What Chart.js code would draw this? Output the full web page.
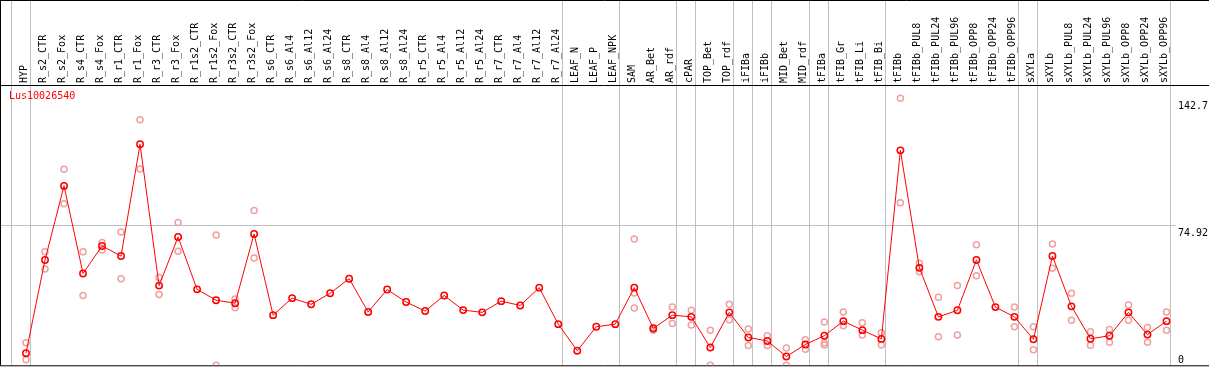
<!DOCTYPE html>
<html>
<head>
<meta charset="utf-8">
<script src="https://cdn.jsdelivr.net/npm/chart.js@4.4.0/dist/chart.umd.min.js"></script>
<style>
  html, body { margin: 0; padding: 0; background: #fff; }
</style>
</head>
<body>
<canvas id="chart" width="1209" height="370"></canvas>
<script>
const geneName = 'Lus10026540';

const samples = [
  'HYP', 'R_s2_CTR', 'R_s2_Fox', 'R_s4_CTR', 'R_s4_Fox', 'R_r1_CTR', 'R_r1_Fox', 'R_r3_CTR', 'R_r3_Fox',
  'R_r1s2_CTR', 'R_r1s2_Fox', 'R_r3s2_CTR', 'R_r3s2_Fox',
  'R_s6_CTR', 'R_s6_Al4', 'R_s6_Al12', 'R_s6_Al24', 'R_s8_CTR', 'R_s8_Al4', 'R_s8_Al12', 'R_s8_Al24',
  'R_r5_CTR', 'R_r5_Al4', 'R_r5_Al12', 'R_r5_Al24', 'R_r7_CTR', 'R_r7_Al4', 'R_r7_Al12', 'R_r7_Al24',
  'LEAF_N', 'LEAF_P', 'LEAF_NPK', 'SAM', 'AR_Bet', 'AR_rdf', 'cPAR', 'TOP_Bet', 'TOP_rdf',
  'iFIBa', 'iFIBb', 'MID_Bet', 'MID_rdf', 'tFIBa', 'tFIB_Gr', 'tFIB_Li', 'tFIB_Bi',
  'tFIBb', 'tFIBb_PUL8', 'tFIBb_PUL24', 'tFIBb_PUL96', 'tFIBb_OPP8', 'tFIBb_OPP24', 'tFIBb_OPP96',
  'sXYLa', 'sXYLb', 'sXYLb_PUL8', 'sXYLb_PUL24', 'sXYLb_PUL96', 'sXYLb_OPP8', 'sXYLb_OPP24', 'sXYLb_OPP96'
];

// mean expression
const meanValues = [
  6.5, 56.3, 95.9, 49.1, 63.8, 58.4, 118.2, 42.6, 68.6,
  40.6, 34.8, 33.2, 70.2,
  26.8, 35.9, 32.6, 38.5, 46.3, 28.5, 40.5, 33.8,
  29.0, 37.3, 29.5, 28.3, 34.3, 32.0, 41.5, 22.0,
  7.8, 20.6, 22.0, 41.5, 19.7, 26.8, 25.9, 9.5, 28.3,
  14.9, 13.0, 4.7, 11.1, 15.8, 23.6, 18.8, 14.1,
  114.9, 52.1, 25.9, 29.4, 56.3, 31.1, 25.9,
  13.9, 58.4, 31.5, 14.2, 15.8, 28.3, 16.4, 23.6
];

// replicates
const rep1 = [
  12.1, 60.7, 104.8, 60.7, 65.6, 71.2, 131.2, 47.0, 76.3,
  null, 69.6, 35.5, 82.7,
  null, null, null, null, null, null, null, null,
  null, null, null, null, null, null, null, null,
  null, null, null, 67.5, 20.2, 31.1, 29.4, 18.8, 32.6,
  19.4, 15.8, 9.3, 13.6, 23.1, 28.5, 22.7, 17.4,
  142.7, 54.5, 36.4, 42.6, 64.4, null, 31.1,
  20.6, 64.9, 38.5, 17.9, 19.2, 32.2, 20.2, 28.5
];
const rep2 = [
  3.0, 51.5, 86.4, 37.3, 61.6, 46.3, 105.0, 37.8, 61.0,
  null, 0, 30.8, 57.4,
  null, null, null, null, null, null, null, null,
  null, null, null, null, null, null, null, null,
  null, null, null, 38.7, 18.8, 22.3, 21.5, 0, 24.4,
  10.6, 10.6, 0, 8.6, 12.1, 21.1, 16.2, 10.9,
  86.9, 50.0, 15.3, 16.2, 47.9, null, 20.6,
  8.3, 51.9, 24.1, 10.7, 12.3, 24.1, 12.3, 18.8
];
const rep3 = [
  null, null, null, null, null, null, null, null, null,
  null, null, null, null,
  null, null, null, null, null, null, null, null,
  null, null, null, null, null, null, null, null,
  null, null, null, 30.6, null, null, null, null, null,
  null, null, null, null, 10.9, null, null, null,
  null, null, null, null, null, null, null,
  null, null, null, null, null, null, null, null
];

const yTicks = [0, 74.92, 142.7];
const yMax = 149.84;
// index of the last sample in each group (-1 = before the first)
const groupEnds = [-1, 0, 28, 31, 34, 35, 37, 38, 39, 41, 42, 45, 52, 53, 60];

const monoFont = 'DejaVu Sans Mono';

const framePlugin = {
  id: 'frame',
  beforeDatasetsDraw(chart) {
    const { ctx, chartArea: a, scales: { x, y } } = chart;
    const w = chart.width;
    ctx.save();
    ctx.lineWidth = 1;
    ctx.strokeStyle = '#c0c0c0';
    ctx.beginPath();
    groupEnds.forEach(function (i) {
      const px = Math.round(x.getPixelForValue(i) + 4) + 0.5;
      ctx.moveTo(px, 0);
      ctx.lineTo(px, a.bottom);
    });
    const gy = Math.round(y.getPixelForValue(yTicks[1])) + 0.5;
    ctx.moveTo(0, gy);
    ctx.lineTo(a.right, gy);
    ctx.stroke();

    ctx.strokeStyle = '#000';
    ctx.beginPath();
    ctx.moveTo(0, 0.5); ctx.lineTo(w, 0.5);
    ctx.moveTo(0, a.top + 0.5); ctx.lineTo(w, a.top + 0.5);
    ctx.moveTo(0, a.bottom + 0.5); ctx.lineTo(w, a.bottom + 0.5);
    ctx.moveTo(0.5, 0); ctx.lineTo(0.5, a.bottom);
    ctx.stroke();

    ctx.font = '10px ' + monoFont;
    ctx.textBaseline = 'top';
    ctx.textAlign = 'left';
    ctx.fillStyle = '#000';
    yTicks.forEach(function (v) {
      const py = y.getPixelForValue(v);
      ctx.fillText(String(v), a.right + 2, Math.min(py + 3, a.bottom - 10));
    });

    ctx.fillStyle = '#ff0000';
    ctx.fillText(geneName, 9, a.top + 6);
    ctx.restore();
  }
};

function repSet(data) {
  return {
    data: data,
    showLine: false,
    pointRadius: 3,
    pointHoverRadius: 3,
    pointBorderWidth: 1.5,
    pointBorderColor: '#f0a0a0',
    pointBackgroundColor: 'rgba(0,0,0,0)',
    borderColor: '#f0a0a0'
  };
}

new Chart(document.getElementById('chart'), {
  type: 'line',
  data: {
    labels: samples,
    datasets: [
      {
        data: meanValues,
        borderColor: '#ff0000',
        borderWidth: 1,
        tension: 0,
        pointRadius: 3.2,
        pointHoverRadius: 3.2,
        pointBorderWidth: 1.5,
        pointBorderColor: '#ff0000',
        pointBackgroundColor: 'rgba(0,0,0,0)'
      },
      repSet(rep1),
      repSet(rep2),
      repSet(rep3)
    ]
  },
  options: {
    responsive: false,
    animation: false,
    devicePixelRatio: 1,
    layout: { padding: { left: 16.5, right: 33, top: 0, bottom: 1 } },
    plugins: { legend: { display: false }, tooltip: { enabled: false } },
    scales: {
      x: {
        type: 'category',
        position: 'top',
        offset: true,
        grid: { display: false, drawTicks: false },
        border: { display: false },
        ticks: {
          autoSkip: false,
          minRotation: 90,
          maxRotation: 90,
          padding: 2,
          labelOffset: 10,
          color: '#000',
          font: { family: monoFont, size: 10 }
        },
        afterFit: function (scale) { scale.height = 85; }
      },
      y: { display: false, min: 0, max: yMax }
    }
  },
  plugins: [framePlugin]
});
</script>
</body>
</html>
